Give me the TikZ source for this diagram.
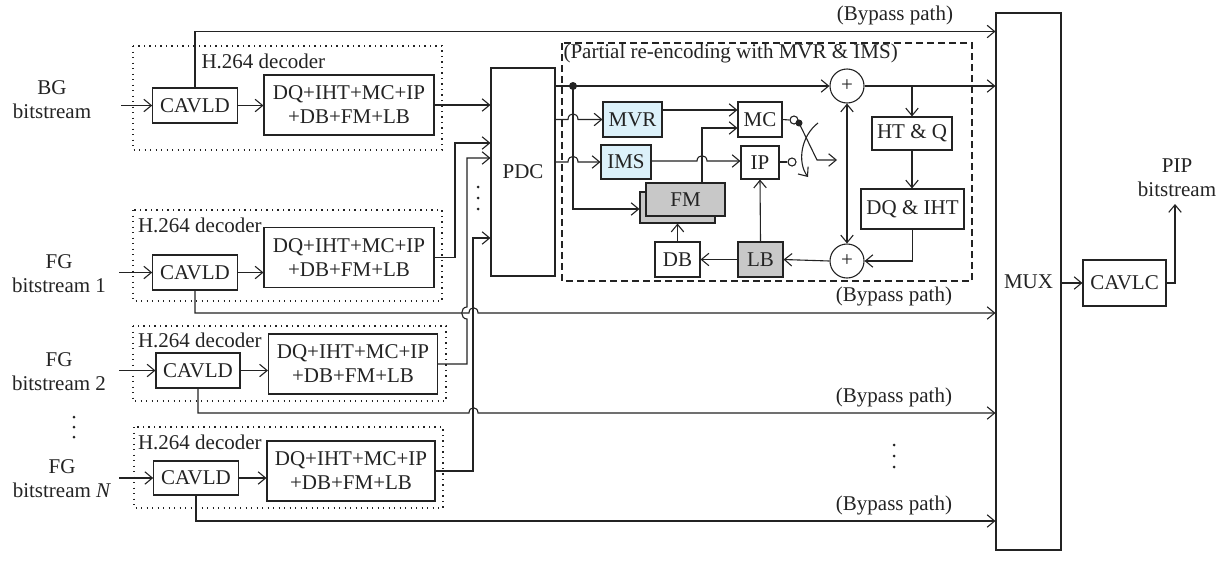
\documentclass[tikz,border=0pt]{standalone}
\usepackage{fontspec}
\setmainfont{Liberation Serif}
\usetikzlibrary{arrows.meta,calc}
\definecolor{ink}{RGB}{35,35,35}
\definecolor{lblue}{RGB}{220,241,250}
\definecolor{lgray}{RGB}{200,200,200}
\begin{document}
\begin{tikzpicture}[x=1pt,y=-1pt,color=ink,line width=1.1pt,
  every node/.style={font=\fontsize{21}{24}\selectfont, text=ink},
  blk/.style={draw, inner sep=0pt, align=center},
  arr/.style={-{Straight Barb[length=7.5pt,width=12.5pt]}},
  arrtwo/.style={{Straight Barb[length=7.5pt,width=12.5pt]}-{Straight Barb[length=7.5pt,width=12.5pt]}},
  dotbox/.style={dash pattern=on 1.1pt off 4.4pt, line width=1.2pt},
  dashbox/.style={dash pattern=on 7pt off 4pt},
  sumc/.style={draw, circle, minimum size=34pt, inner sep=0pt},
  swc/.style={draw, circle, minimum size=8pt, inner sep=0pt, fill=white},
  lbl/.style={align=center}]
\useasboundingbox (0,0) rectangle (1225,560);

% ---------- left labels ----------
\node[lbl] (bgl) at (52,100) {BG\\bitstream};
\node[lbl] (fg1l) at (59,273.5) {FG\\bitstream 1};
\node[lbl] (fg2l) at (59,371.5) {FG\\bitstream 2};
\node[lbl] (fgNl) at (62,479) {FG\\bitstream \textit{N}};
\fill (74,417) circle (1.5pt);
\fill (74,427) circle (1.5pt);
\fill (74,437) circle (1.5pt);

% ---------- decoder boxes ----------
\draw[dotbox] (133,46) rectangle (442,150);
\draw[dotbox] (133,210) rectangle (442,301);
\draw[dotbox] (133,326) rectangle (446,401);
\draw[dotbox] (134,427) rectangle (443,508);
\node[anchor=base west, inner sep=0pt] (dl0) at (201,68) {H.264 decoder};
\node[anchor=base west, inner sep=0pt] (dl1) at (137.5,232) {H.264 decoder};
\node[anchor=base west, inner sep=0pt] (dl2) at (137.5,347) {H.264 decoder};
\node[anchor=base west, inner sep=0pt] (dlN) at (137.5,449) {H.264 decoder};

\node[blk, minimum width=84.5pt, minimum height=35pt] (cav0) at (195,105.5) {CAVLD};
\node[blk, minimum width=84.5pt, minimum height=35pt] (cav1) at (195,272.5) {CAVLD};
\node[blk, minimum width=84pt, minimum height=35pt] (cav2) at (198,370.5) {CAVLD};
\node[blk, minimum width=84.5pt, minimum height=34pt] (cavN) at (196,478) {CAVLD};

\node[blk, minimum width=170pt, minimum height=60pt] (dq0) at (349,105) {DQ+IHT+MC+IP\\+DB+FM+LB};
\node[blk, minimum width=170pt, minimum height=60pt] (dq1) at (349,257.5) {DQ+IHT+MC+IP\\+DB+FM+LB};
\node[blk, minimum width=169pt, minimum height=60pt] (dq2) at (353,364) {DQ+IHT+MC+IP\\+DB+FM+LB};
\node[blk, minimum width=168pt, minimum height=60pt] (dqN) at (351,471) {DQ+IHT+MC+IP\\+DB+FM+LB};

\coordinate (in0) at (121,105.5);
\coordinate (in1) at (119,272.5);
\coordinate (in2) at (119,370.5);
\coordinate (inN) at (119,478);
\draw[arr] (in0) -- (cav0.west);
\draw[arr] (in1) -- (cav1.west);
\draw[arr] (in2) -- (cav2.west);
\draw[arr] (inN) -- (cavN.west);
\draw[arr] (cav0.east) -- (dq0.west |- cav0.east);
\draw[arr] (cav1.east) -- (dq1.west |- cav1.east);
\draw[arr] (cav2.east) -- (dq2.west |- cav2.east);
\draw[arr] (cavN.east) -- (dqN.west |- cavN.east);

% ---------- PDC ----------
\node[blk, minimum width=64pt, minimum height=208pt] (pdc) at (523,172) {PDC};
\fill (478,187) circle (1.5pt);
\fill (478,198) circle (1.5pt);
\fill (478,209) circle (1.5pt);

\draw[arr] (dq0.east) -- (pdc.west |- dq0.east);
\draw[arr] (dq1.east) -- (455,257.5) -- (455,143) -- (pdc.west |- 0,143);
\draw[arr] (dq2.east) -- (467,364) -- (467,319) .. controls (460,319) and (460,307) .. (467,307) -- (467,158) -- (pdc.west |- 0,158);
\draw[arr] (dqN.east) -- (473,471) -- (473,238) -- (pdc.west |- 0,238);

% ---------- MUX, CAVLC ----------
\node[blk, minimum width=65pt, minimum height=537pt] (mux) at (1028.5,281.5) {MUX};
\node[blk, minimum width=83pt, minimum height=46pt] (cavlc) at (1124.5,283) {CAVLC};
\node[lbl] (pip) at (1177,178) {PIP\\bitstream};
\coordinate (pipin) at (1175,204);
\draw[arr] (mux.east |- cavlc.west) -- (cavlc.west);
\draw[arr] (cavlc.east) -| (pipin);

% ---------- bypass paths ----------
\draw[arr] (cav0.north) |- (mux.west |- 0,31.5);
\draw[arr] (cav1.south) |- (469,313) .. controls (469,306) and (478,306) .. (478,313) -- (mux.west |- 0,313);
\draw[arr] (cav2.south) |- (469,413) .. controls (469,406) and (478,406) .. (478,413) -- (mux.west |- 0,413);
\draw[arr] (cavN.south) |- (mux.west |- 0,521);
\node (bp0) at (895,15) {(Bypass path)};
\node (bp1) at (894,296.5) {(Bypass path)};
\node (bp2) at (894,397) {(Bypass path)};
\node (bpN) at (894,505) {(Bypass path)};
\fill (894,445) circle (1.5pt);
\fill (894,456) circle (1.5pt);
\fill (894,467) circle (1.5pt);

% ---------- partial re-encoding ----------
\draw[dashbox] (562,43) rectangle (972,281);
\node[anchor=base west, inner sep=0pt] (pl) at (563,58) {(Partial re-encoding with MVR \& IMS)};

\node[sumc] (c1) at (847,86) {+};
\node[sumc] (c2) at (847,261) {+};
\node[blk, fill=lblue, minimum width=59pt, minimum height=35pt] (mvr) at (632.5,119.5) {MVR};
\node[blk, fill=lblue, minimum width=50pt, minimum height=34pt] (ims) at (626,162) {IMS};
\node[blk, minimum width=44pt, minimum height=35pt] (mc) at (760,119.5) {MC};
\node[blk, minimum width=38pt, minimum height=33pt] (ip) at (760,162.5) {IP};
\node[blk, fill=lgray, minimum width=75pt, minimum height=31pt] (fmb) at (677.5,207.5) {};
\node[blk, fill=lgray, minimum width=79pt, minimum height=33pt] (fm) at (685.5,199.5) {FM};
\node[blk, minimum width=45pt, minimum height=35pt] (db) at (677.5,259.5) {DB};
\node[blk, fill=lgray, minimum width=45pt, minimum height=35pt] (lb) at (760.5,259.5) {LB};
\node[blk, minimum width=80pt, minimum height=33pt] (htq) at (912,133.5) {HT \& Q};
\node[blk, minimum width=103pt, minimum height=40pt] (dqi) at (912.5,209) {DQ \& IHT};

\coordinate (jn) at (573,86);
\draw[arr] (pdc.east |- c1.west) -- (c1.west);
\fill (jn) circle (4pt);
\draw[arr] (pdc.east |- mvr.west) -- (568,119.5) .. controls (568,112) and (578,112) .. (578,119.5) -- (mvr.west);
\draw[arr] (pdc.east |- ims.west) -- (568,162) .. controls (568,154.5) and (578,154.5) .. (578,162) -- (ims.west);
\draw[arr] (jn) -- (573,209) -- (fmb.west |- 0,209);

\draw[arr] (mvr.east |- 0,110) -- (mc.west |- 0,110);
\draw[arr] (fm.north -| 702,0) -- (702,128) -- (mc.west |- 0,128);
\draw[arr] (ims.east |- 0,161) -- (697,161) .. controls (697,154) and (707,154) .. (707,161) -- (ip.west |- 0,161);
\draw[arr] (db.north) -- (fmb.south -| db.north);
\draw[arr] (lb.west) -- (db.east);
\draw[arr] (lb.north) -- (ip.south);
\draw[arr] (c2.west) -- (lb.east);
\draw[arrtwo] (c1.south) -- (c2.north);
\draw[arr] (c1.east) -- (mux.west |- c1.east);
\draw[arr] (htq.north |- c1.east) -- (htq.north);
\draw[arr] (htq.south) -- (htq.south |- dqi.north);
\draw[arr] (dqi.south) |- (c2.east);

% switch
\node[swc] (sw1) at (794,120) {};
\node[swc] (sw2) at (792,162) {};
\draw (mc.east) -- (sw1.west);
\draw (ip.east |- sw2.west) -- (sw2.west);
\coordinate (swp) at (799,123);
\coordinate (swk) at (817,160);
\coordinate (swout) at (837,160);
\draw[arr] (swp) -- (swk) -- (swout);
\fill (swp) circle (3.5pt);
\coordinate (arca) at (818,123);
\coordinate (arcb) at (808,177);
\draw[arr] (arca) .. controls (801,136) and (797,162) .. (arcb);
\end{tikzpicture}
\end{document}
